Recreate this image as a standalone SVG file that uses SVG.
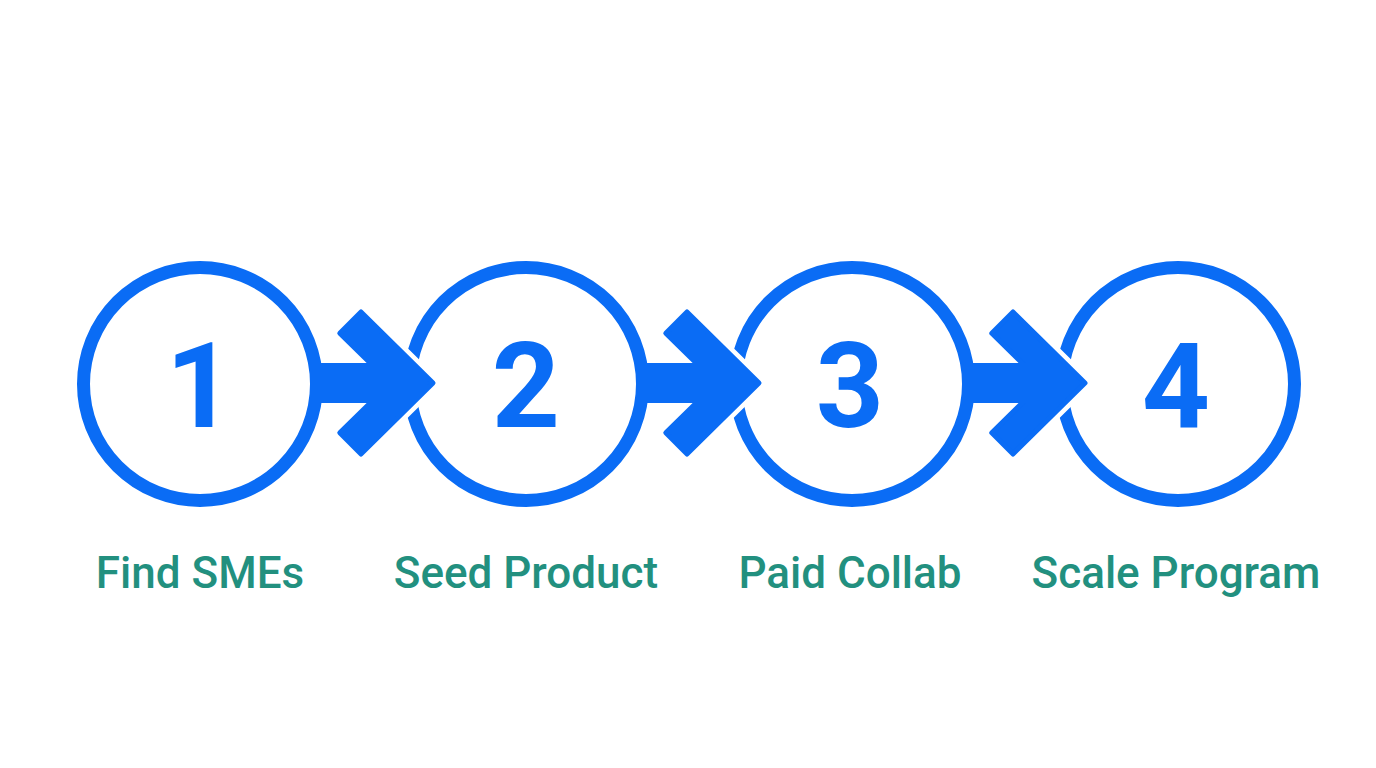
<svg xmlns="http://www.w3.org/2000/svg" width="1376" height="768" viewBox="0 0 1376 768">
<style>
.ring{fill:none;stroke:#0a6cf5;stroke-width:13}
.num{font-family:Roboto,"Liberation Sans",sans-serif;font-weight:700;font-size:119px;fill:#0a6cf5;text-anchor:middle}
.lbl{font-family:Roboto,"Liberation Sans",sans-serif;font-weight:500;font-size:44px;fill:#22907f;text-anchor:middle}
.halo{fill:#fff;stroke:#fff;stroke-width:14;stroke-linejoin:round}
.head{fill:#0a6cf5;stroke:#0a6cf5;stroke-width:5;stroke-linejoin:round}
.shaft{fill:#0a6cf5}
</style>
<defs>
<path id="chev" d="M0,0 L-72,-71 L-93.2,-49.8 L-42.4,0 L-93.2,49.8 L-72,71 Z"/>
</defs>
<rect width="1376" height="768" fill="#fff"/>
<g id="node1">
<circle class="ring" cx="200" cy="384" r="116.5"/>
<text class="num" x="200" y="427">1</text>
<text class="lbl" x="200" y="588">Find SMEs</text>
</g>
<g id="node2">
<circle class="ring" cx="526" cy="384" r="116.5"/>
<text class="num" x="526" y="427">2</text>
<text class="lbl" x="526" y="588">Seed Product</text>
</g>
<g id="node3">
<circle class="ring" cx="852" cy="384" r="116.5"/>
<text class="num" x="850" y="427">3</text>
<text class="lbl" x="850" y="588">Paid Collab</text>
</g>
<g id="node4">
<circle class="ring" cx="1178" cy="384" r="116.5"/>
<text class="num" x="1176" y="427">4</text>
<text class="lbl" x="1176" y="588">Scale Program</text>
</g>
<g id="connectors">
<g transform="translate(433,383)">
<use href="#chev" class="halo"/>
<use href="#chev" class="head"/>
<rect class="shaft" x="-113" y="-20" width="75" height="40"/>
</g>
<g transform="translate(759,383)">
<use href="#chev" class="halo"/>
<use href="#chev" class="head"/>
<rect class="shaft" x="-113" y="-20" width="75" height="40"/>
</g>
<g transform="translate(1085,383)">
<use href="#chev" class="halo"/>
<use href="#chev" class="head"/>
<rect class="shaft" x="-113" y="-20" width="75" height="40"/>
</g>
</g>
</svg>
